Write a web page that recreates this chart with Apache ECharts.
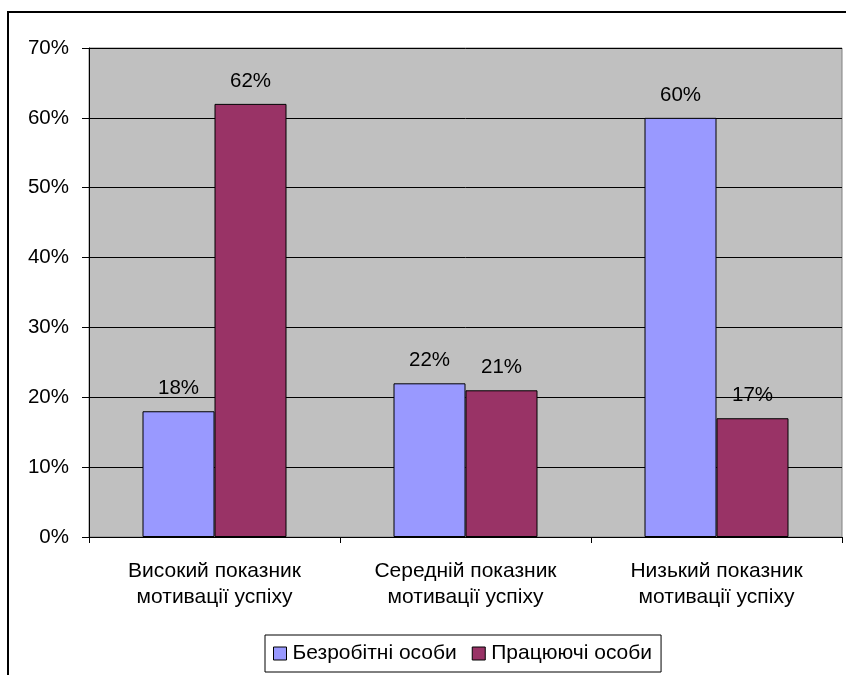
<!DOCTYPE html>
<html><head><meta charset="utf-8">
<script src="https://cdn.jsdelivr.net/npm/echarts@6/dist/echarts.min.js"></script>
<style>html,body{margin:0;padding:0;background:#fff}#c{width:846px;height:675px}</style>
</head><body><div id="c"></div>
<script>
const categories = ['Високий показник\nмотивації успіху', 'Середній показник\nмотивації успіху', 'Низький показник\nмотивації успіху'];
const seriesNames = ['Безробітні особи', 'Працюючі особи'];
const unemployed = [18, 22, 60];
const employed = [62, 21, 17];
const yTicks = [0, 10, 20, 30, 40, 50, 60, 70];

const font = 'Arial, "Liberation Sans", sans-serif';
const FS = 21;
const chart = echarts.init(document.getElementById('c'), null, {renderer: 'canvas'});
const lbl = {show: true, position: 'top', distance: 12, formatter: p => p.value + '%', color: '#000', fontSize: FS - 0.5, fontFamily: font};
chart.setOption({
  animation: false,
  graphic: [{type: 'rect', shape: {x: 8, y: 12, width: 900, height: 800}, style: {fill: 'none', stroke: '#000', lineWidth: 2}, z: 100}],
  grid: {left: 89, top: 48, right: 4, bottom: 138, show: true, backgroundColor: '#C0C0C0', borderColor: '#808080', borderWidth: 1},
  legend: {
    data: seriesNames.map(n => ({name: n, icon: 'rect', itemStyle: {borderColor: '#000', borderWidth: 1}})),
    left: 265, top: 635, itemWidth: 13, itemHeight: 13, itemGap: 15,
    borderColor: '#000', borderWidth: 1, padding: [8, 9, 8, 8],
    textStyle: {fontSize: FS, fontFamily: font, color: '#000', padding: [0, 0, 0, 1]}
  },
  xAxis: {
    type: 'category', data: categories,
    axisLine: {show: true, lineStyle: {color: '#000', width: 1}},
    axisTick: {show: true, length: 6, lineStyle: {color: '#000'}},
    axisLabel: {fontSize: FS, fontFamily: font, color: '#000', lineHeight: 26, margin: 21, interval: 0}
  },
  yAxis: {
    type: 'value', min: yTicks[0], max: yTicks[yTicks.length - 1], interval: 10,
    axisLine: {show: true, lineStyle: {color: '#000', width: 1}},
    axisTick: {show: true, length: 7, lineStyle: {color: '#000'}},
    axisLabel: {formatter: v => v + '%', fontSize: FS - 0.5, fontFamily: font, color: '#000', margin: 20},
    splitLine: {show: true, lineStyle: {color: '#000', width: 1}}
  },
  series: [
    {name: seriesNames[0], type: 'bar', data: unemployed, barWidth: 72, barGap: '0%', itemStyle: {color: '#9999FF', borderColor: '#000', borderWidth: 1}, label: lbl},
    {name: seriesNames[1], type: 'bar', data: employed, barWidth: 72, barGap: '0%', itemStyle: {color: '#993366', borderColor: '#000', borderWidth: 1}, label: lbl}
  ]
});
</script></body></html>
